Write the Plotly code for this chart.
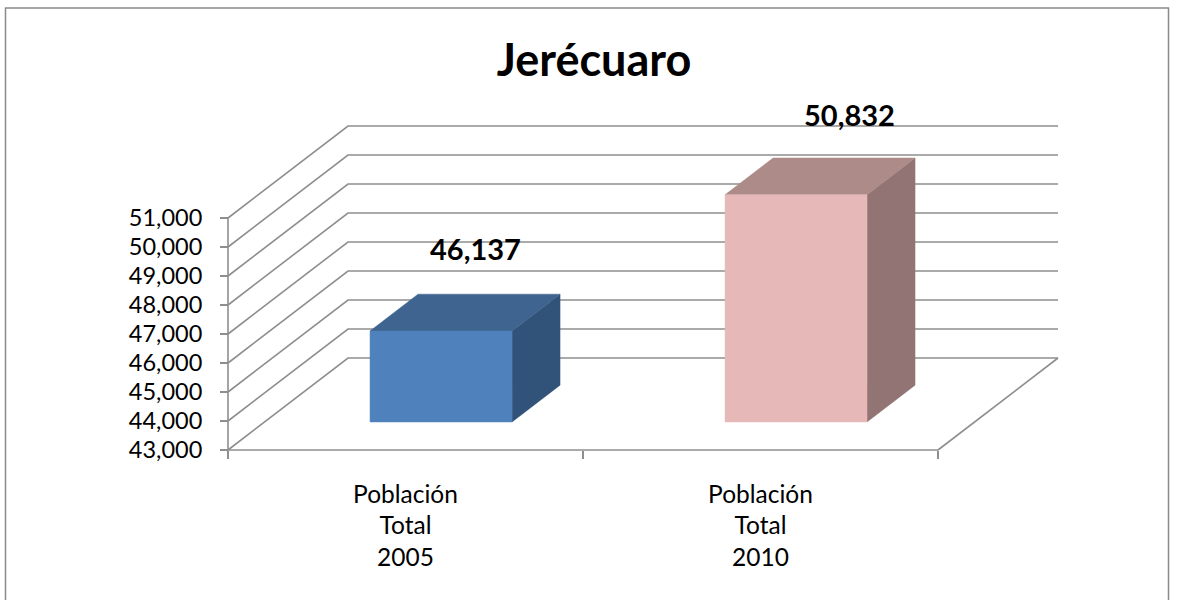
import plotly.graph_objects as go

categories = ["Población<br>Total<br>2005", "Población<br>Total<br>2010"]
values = [46137, 50832]
tick_values = [43000, 44000, 45000, 46000, 47000, 48000, 49000, 50000, 51000]
title_text = "Jerécuaro"

FONT = "Lato, Carlito, Calibri, sans-serif"
W, H = 1178, 600
AX_LEFT, AX_FLOOR = 228, 450      # pixels of the front-left floor corner
PX_CAT, PX_UNIT = 355.0, 0.029    # pixels per category, pixels per value unit
DEPTH_X, DEPTH_Y = 120.0, 92.0    # pixels covered by the full chart depth
BASE = tick_values[0]
TOP = tick_values[-1]
GRID = "#8e8e8e"

def proj(cat, val, depth):
    """Oblique projection of (category pos, value, depth 0..1) onto the 2D axes."""
    return cat + depth * DEPTH_X / PX_CAT, val + depth * DEPTH_Y / PX_UNIT

def poly(points, fill, name):
    xy = [proj(*p) for p in points]
    return go.Scatter(x=[a for a, _ in xy] + [xy[0][0]], y=[b for _, b in xy] + [xy[0][1]],
                      mode="lines", fill="toself", fillcolor=fill,
                      line=dict(color=fill, width=0.5), name=name, hoverinfo="skip", showlegend=False)

def line(points, name, width=1.6):
    xy = [proj(*p) for p in points]
    return go.Scatter(x=[a for a, _ in xy], y=[b for _, b in xy], mode="lines",
                      line=dict(color=GRID, width=width), name=name, hoverinfo="skip", showlegend=False)

fig = go.Figure()
n = len(categories)

# walls and gridlines
for t in tick_values:
    fig.add_trace(line([(0, t, 0), (0, t, 1), (n, t, 1)], f"grid {t}"))
fig.add_trace(line([(n, BASE, 0), (n, BASE, 1)], "floor edge"))
fig.add_trace(line([(0, BASE, 0), (n, BASE, 0)], "x axis"))
fig.add_trace(line([(0, BASE, 0), (0, TOP, 0)], "y axis"))

# bars
D0, D1, BAR_W, BAR_C = 0.305, 0.705, 0.4, 0.497
styles = [("#4f81bd", "#3f648f", "#325379"), ("#e6b9b8", "#ad8b89", "#917473")]
for i, v in enumerate(values):
    c0, c1 = i + BAR_C - BAR_W / 2, i + BAR_C + BAR_W / 2
    front, top, side = styles[i]
    fig.add_trace(poly([(c1, BASE, D0), (c1, BASE, D1), (c1, v, D1), (c1, v, D0)], side, f"side {i}"))
    fig.add_trace(poly([(c0, v, D0), (c1, v, D0), (c1, v, D1), (c0, v, D1)], top, f"top {i}"))
    fig.add_trace(poly([(c0, BASE, D0), (c1, BASE, D0), (c1, v, D0), (c0, v, D0)], front, f"front {i}"))

# data labels
label_shift = [(9.5, 65), (28.5, 62)]
annotations = []
for i, v in enumerate(values):
    x, y = proj(i + 0.5, v, 0.5)
    annotations.append(dict(x=x, y=y, text=f"<b>{v:,}</b>", showarrow=False, xanchor="center", yanchor="middle",
                            xshift=label_shift[i][0], yshift=label_shift[i][1],
                            font=dict(family=FONT, size=29, color="#000000")))

fig.update_layout(
    width=W, height=H, margin=dict(l=0, r=0, t=0, b=0, pad=0, autoexpand=False),
    paper_bgcolor="#ffffff", plot_bgcolor="#ffffff", showlegend=False,
    title=dict(text=f"<b>{title_text}</b>", x=594 / W, xanchor="center", y=1 - 60 / H, yanchor="middle",
               font=dict(family=FONT, size=45, color="#000000")),
    xaxis=dict(range=[-AX_LEFT / PX_CAT, (W - AX_LEFT) / PX_CAT], domain=[0, 1], anchor="free",
               position=1 - AX_FLOOR / H, showgrid=False, zeroline=False, showline=False,
               tickmode="array", tickvals=[i + 0.5 for i in range(n)], ticktext=categories,
               ticks="", ticklabelstandoff=27, tickfont=dict(family=FONT, size=24.5, color="#000000"),
               minor=dict(tickmode="array", tickvals=list(range(n + 1)), ticks="outside", ticklen=8,
                          tickcolor=GRID, tickwidth=1.5, showgrid=False)),
    yaxis=dict(range=[BASE - (H - AX_FLOOR) / PX_UNIT, BASE + AX_FLOOR / PX_UNIT], domain=[0, 1], anchor="free",
               position=AX_LEFT / W, showgrid=False, zeroline=False, showline=False,
               tickmode="array", tickvals=tick_values, tickformat=",d",
               ticks="outside", ticklen=8, tickcolor=GRID, tickwidth=1.5,
               ticklabelstandoff=13, tickfont=dict(family=FONT, size=23.5, color="#000000")),
    annotations=annotations,
    shapes=[dict(type="rect", xref="paper", yref="paper", x0=5.5 / W, x1=1168.5 / W, y0=-0.05, y1=1 - 8 / H,
                 line=dict(color="#8a8a8a", width=1.5), fillcolor="rgba(0,0,0,0)", layer="below")],
)
fig.write_html("out.html", config={"displayModeBar": False},
               post_script="document.body.style.margin='0';document.documentElement.style.overflow='hidden';")
